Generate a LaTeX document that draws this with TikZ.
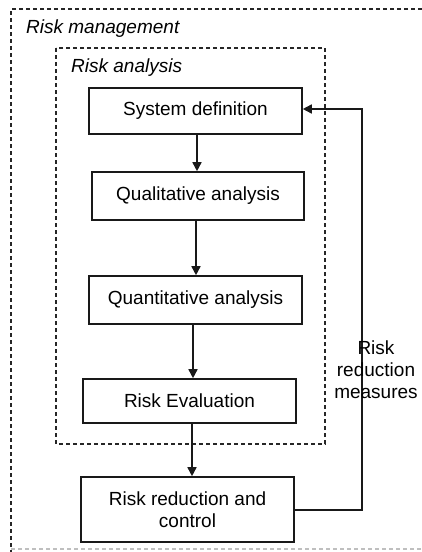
\documentclass[tikz,border=0pt]{standalone}
\usepackage{fontspec}
\setmainfont{Liberation Sans}
\usetikzlibrary{arrows.meta}
\begin{document}
\begin{tikzpicture}[x=1pt,y=-1pt,
  box/.style={draw=black!90, line width=1.6pt, fill=white, minimum width=213pt, inner sep=0pt, font=\fontsize{19}{22}\selectfont, align=center},
  arr/.style={draw=black!90, line width=1.6pt, -{Triangle[width=9pt,length=9pt]}},
  dashbox/.style={draw=black!85, line width=1.3pt, dash pattern=on 4pt off 3pt},
  lbl/.style={font=\fontsize{19}{22}\selectfont\itshape, inner sep=0pt, anchor=west}]
\useasboundingbox (0,0) rectangle (422,552);
% outer dashed frame (right edge outside the picture)
\draw[dashbox] (422,9) -- (11,9) -- (11,552);
\draw[dashbox, draw=black!25] (11,549) -- (422,549);
\node[lbl] (rm) at (26,29) {Risk management};
% inner dashed frame
\draw[dashbox] (56,48) rectangle (325,444);
\node[lbl] (ra) at (71,68) {Risk analysis};
% boxes
\node[box, minimum height=46pt] (sys) at (195.5,111) {System definition};
\node[box, minimum width=212pt, minimum height=48pt] (qual) at (198,196) {Qualitative analysis};
\node[box, minimum height=48pt] (quant) at (195.5,300) {Quantitative analysis};
\node[box, minimum height=44pt] (eval) at (189.5,401) {Risk Evaluation};
\node[box, minimum height=65pt] (red) at (187.5,509.5) {Risk reduction and\\control};
% arrows
\draw[arr] ([xshift=1.5pt]sys.south) -- ([xshift=1.5pt]sys.south |- qual.north);
\draw[arr] ([xshift=-2pt]qual.south) -- ([xshift=-2pt]qual.south |- quant.north);
\draw[arr] ([xshift=-2.5pt]quant.south) -- ([xshift=-2.5pt]quant.south |- eval.north);
\draw[arr] ([xshift=2.5pt]eval.south) -- ([xshift=2.5pt]eval.south |- red.north);
% feedback loop
\coordinate (fb1) at (362,510);
\coordinate (fb2) at (362,109);
\draw[arr] (red.east |- fb1) -- (fb1) -- (fb2) -- (sys.east |- fb2);
\node[font=\fontsize{19}{22}\selectfont, align=center, inner sep=0pt] (meas) at (376,370) {Risk\\reduction\\measures};
\end{tikzpicture}
\end{document}
